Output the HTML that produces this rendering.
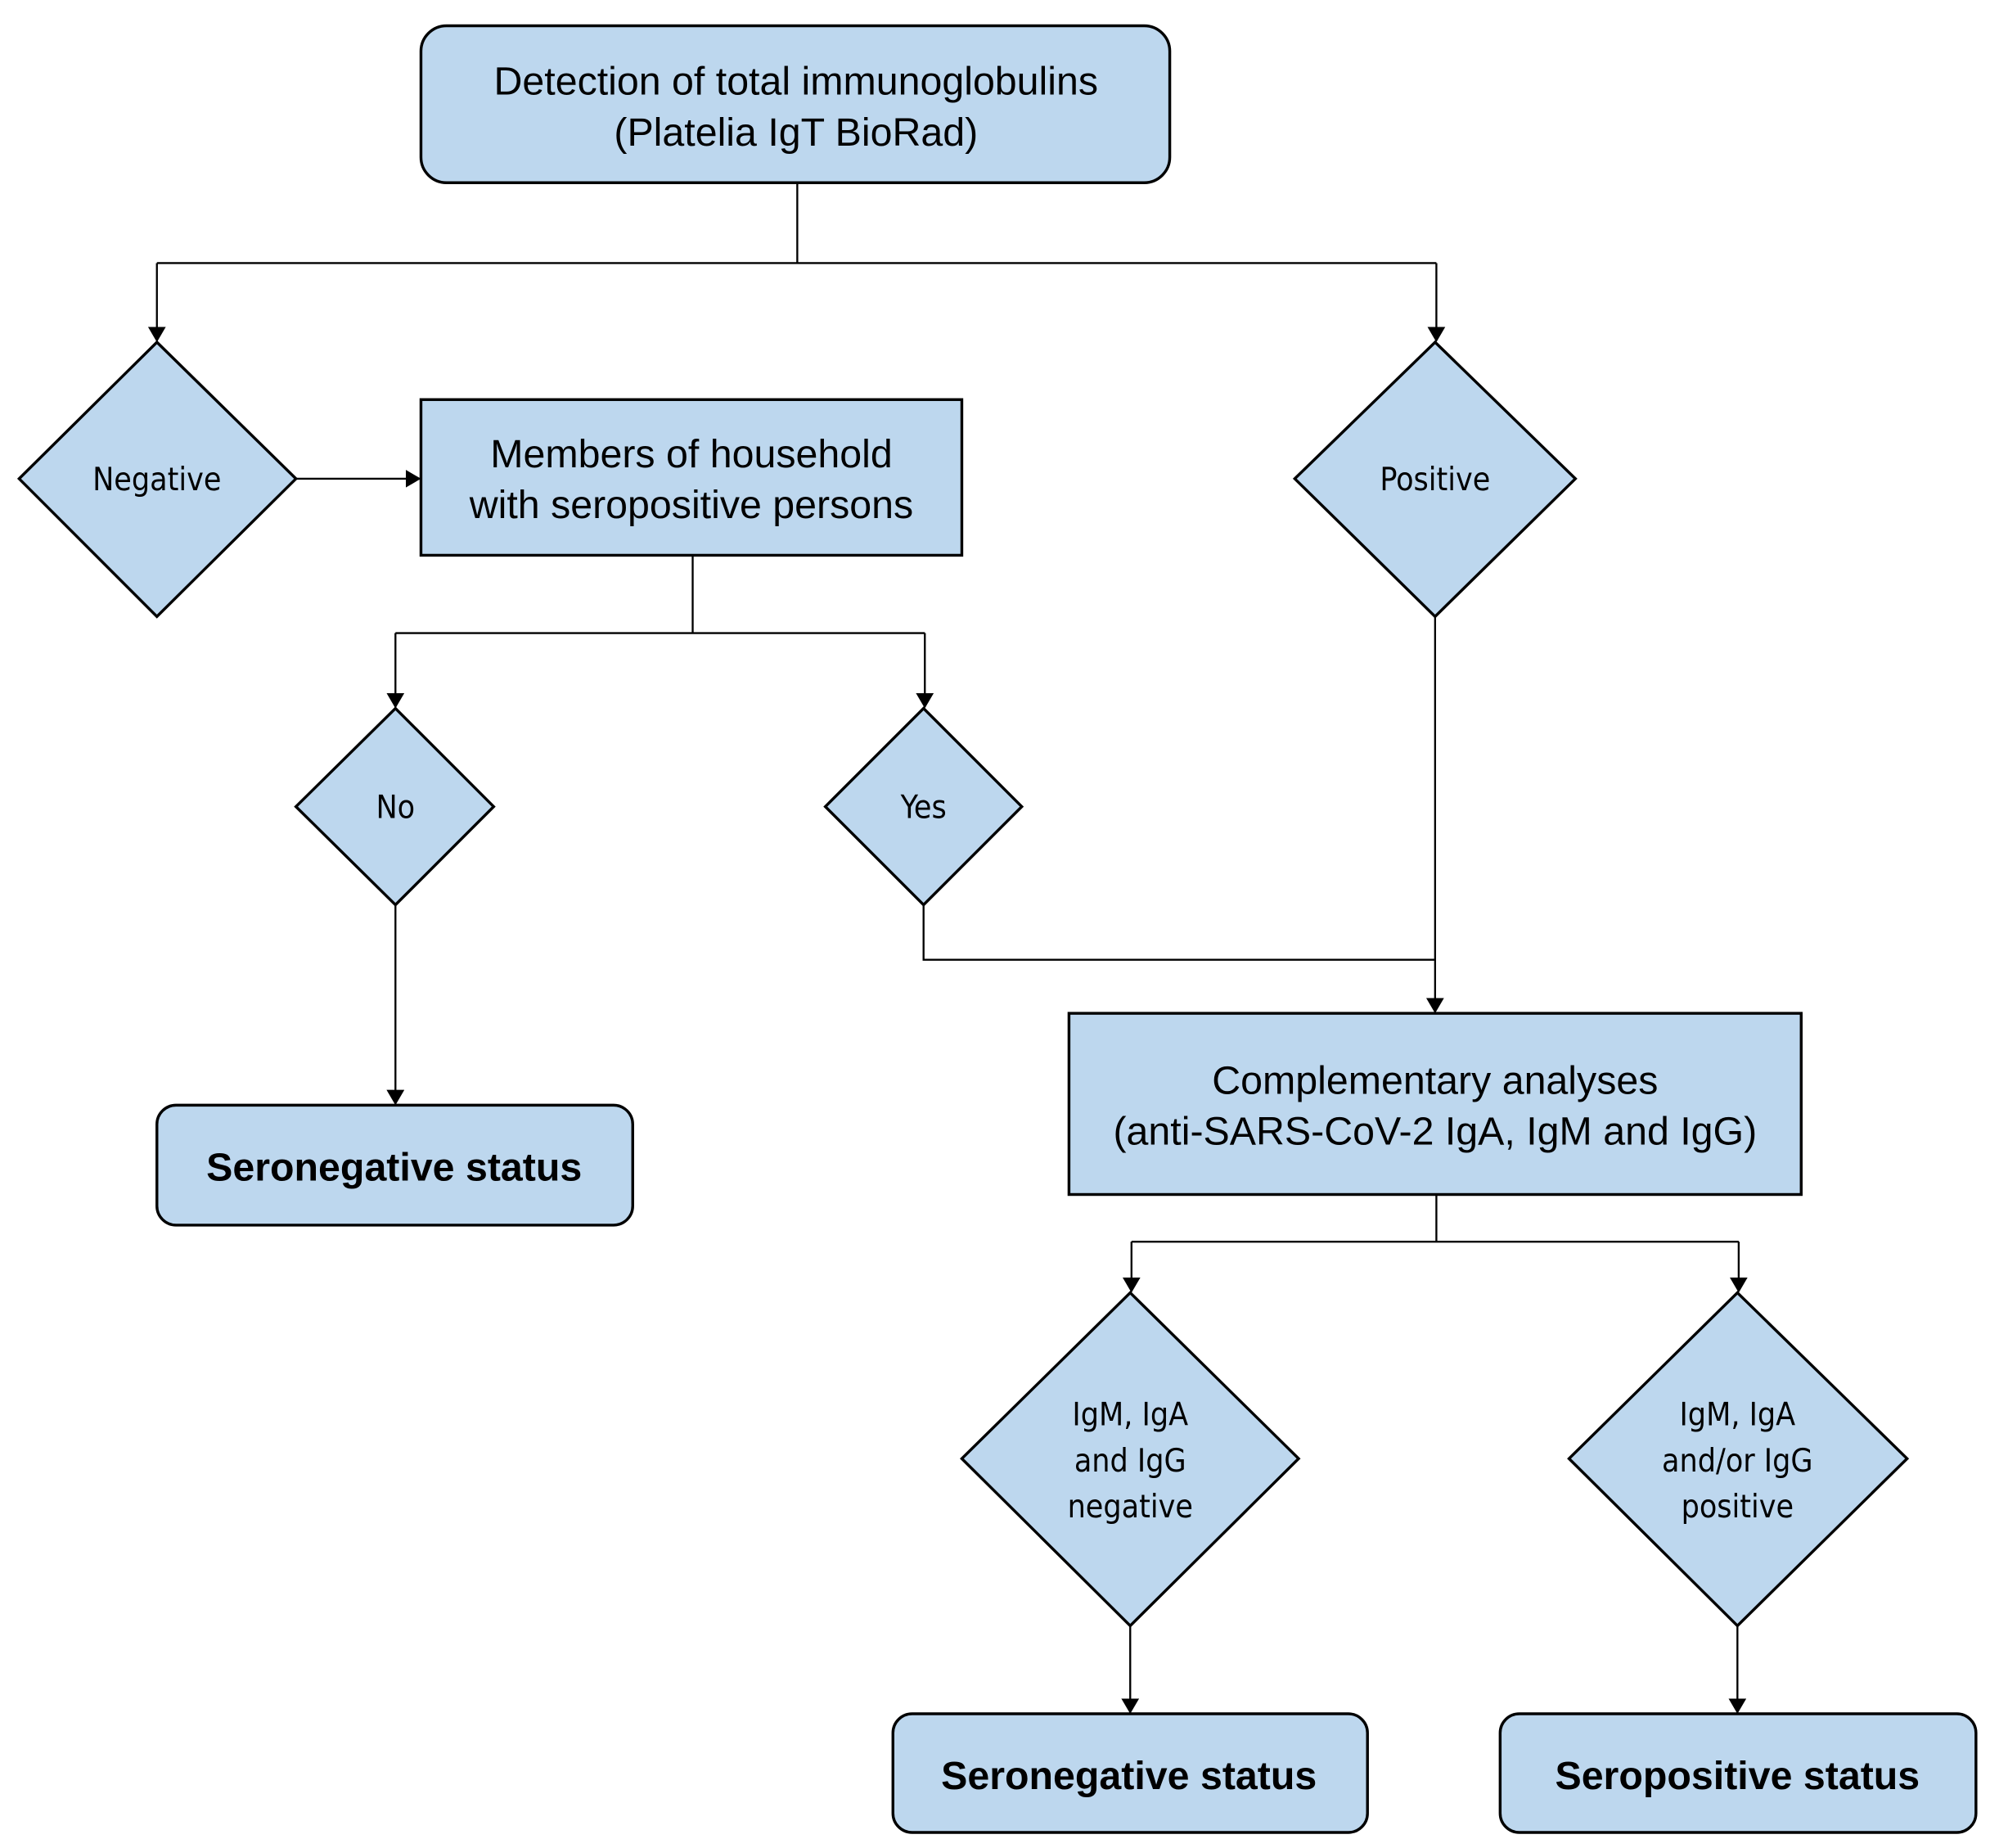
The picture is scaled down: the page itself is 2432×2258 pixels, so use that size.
<!DOCTYPE html>
<html><head><meta charset="utf-8"><style>
html,body{margin:0;padding:0;background:#fff;}
svg{display:block;}
text{font-family:"Liberation Sans",Arial,sans-serif;fill:#000;text-anchor:middle;}
.s{font-family:"DejaVu Sans Condensed","Liberation Sans",sans-serif;font-size:25px;}
.b{font-weight:bold;font-size:31px;}
.n{font-size:31px;}
</style></head><body>
<svg width="2432" height="2258" viewBox="0 0 1560 1448" xmlns="http://www.w3.org/2000/svg">
<defs><marker id="a" markerWidth="12" markerHeight="14" refX="11" refY="7" orient="auto" markerUnits="userSpaceOnUse"><path d="M0,0 L12,7 L0,14 z" fill="#000"/></marker></defs>
<g fill="#bdd7ee" stroke="#000" stroke-width="2.2">
<rect x="330" y="20" width="587" height="123" rx="20"/>
<polygon points="123,268 232,375 123,483 15,375"/>
<rect x="330" y="313" width="424" height="122"/>
<polygon points="1125,268 1235,375 1125,483 1015,375"/>
<polygon points="310,555 387,632 310,709 232,632"/>
<polygon points="724,555 801,632 724,709 647,632"/>
<rect x="123" y="866" width="373" height="94" rx="15"/>
<rect x="838" y="794" width="574" height="142"/>
<polygon points="886,1013 1018,1143 886,1274 754,1143"/>
<polygon points="1362,1013 1495,1143 1362,1274 1230,1143"/>
<rect x="700" y="1343" width="372" height="93" rx="15"/>
<rect x="1176" y="1343" width="373" height="93" rx="15"/>
</g>
<g fill="none" stroke="#000" stroke-width="1.5">
<path d="M625,143 V206 M123,206 H1126"/>
<path d="M123,206 V267" marker-end="url(#a)"/>
<path d="M1126,206 V267" marker-end="url(#a)"/>
<path d="M232,375 H329" marker-end="url(#a)"/>
<path d="M543,435 V496 M310,496 H725"/>
<path d="M310,496 V554" marker-end="url(#a)"/>
<path d="M725,496 V554" marker-end="url(#a)"/>
<path d="M1125,483 V793" marker-end="url(#a)"/>
<path d="M724,709 V752 H1125"/>
<path d="M310,709 V865" marker-end="url(#a)"/>
<path d="M1126,936 V973 M887,973 H1363"/>
<path d="M887,973 V1012" marker-end="url(#a)"/>
<path d="M1363,973 V1012" marker-end="url(#a)"/>
<path d="M886,1274 V1342" marker-end="url(#a)"/>
<path d="M1362,1274 V1342" marker-end="url(#a)"/>
</g>
<text class="n" x="624" y="74">Detection of total immunoglobulins</text>
<text class="n" x="624" y="114">(Platelia IgT BioRad)</text>
<text class="n" x="542" y="366">Members of household</text>
<text class="n" x="542" y="406">with seropositive persons</text>
<text class="n" x="1125" y="857">Complementary analyses</text>
<text class="n" x="1125" y="897">(anti-SARS-CoV-2 IgA, IgM and IgG)</text>
<text class="s" x="123" y="384">Negative</text>
<text class="s" x="1125" y="384">Positive</text>
<text class="s" x="310" y="641">No</text>
<text class="s" x="724" y="641">Yes</text>
<text class="s" x="886" y="1117">IgM, IgA</text>
<text class="s" x="886" y="1153">and IgG</text>
<text class="s" x="886" y="1189">negative</text>
<text class="s" x="1362" y="1117">IgM, IgA</text>
<text class="s" x="1362" y="1153">and/or IgG</text>
<text class="s" x="1362" y="1189">positive</text>
<text class="b" x="309" y="925">Seronegative status</text>
<text class="b" x="885" y="1402">Seronegative status</text>
<text class="b" x="1362" y="1402">Seropositive status</text>
</svg>
</body></html>
